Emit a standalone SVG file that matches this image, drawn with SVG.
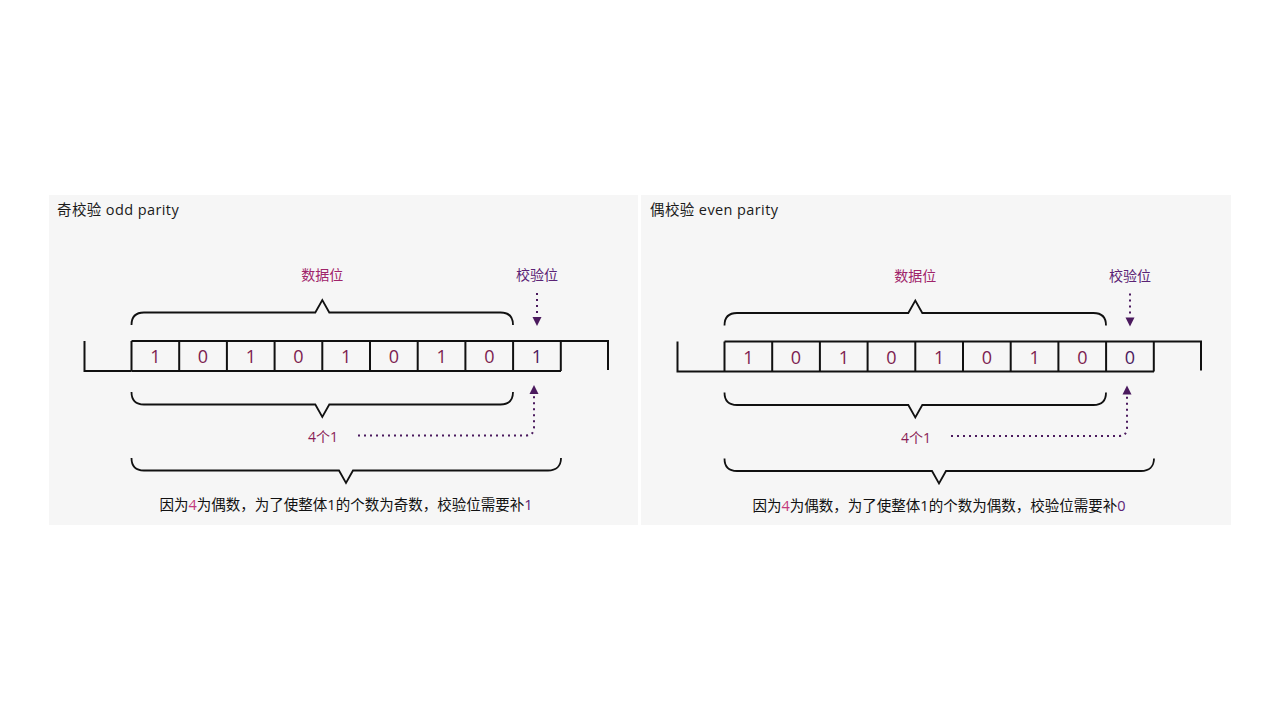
<svg xmlns="http://www.w3.org/2000/svg" width="1280" height="720" viewBox="0 0 1280 720">
<defs>
<style>
.bg{fill:#f6f6f6}
.ln{fill:none;stroke:#111;stroke-width:2}
.br{fill:none;stroke:#111;stroke-width:1.8;stroke-linejoin:miter}
.dot{fill:none;stroke:#4b1a5e;stroke-width:2;stroke-dasharray:2 4}
.ah{fill:#4b1a5e}
.t{font-family:"Open Sans","Noto Sans CJK SC","Liberation Sans",sans-serif}
.title{font-size:14.5px;fill:#1a1a1a;letter-spacing:0.4px}
.dig{font-size:18px;fill:#7d1d50;text-anchor:middle}
.par{font-size:18px;fill:#4b1a5e;text-anchor:middle}
.lbl1{font-size:14px;fill:#a0246a;text-anchor:middle}
.lbl2{font-size:14px;fill:#5b2375;text-anchor:middle}
.cnt{font-size:14px;fill:#8a1c55;text-anchor:middle}
.exp{font-size:14.5px;fill:#111;text-anchor:middle}
.pink{fill:#c23b7e}
.purp{fill:#5b2375}
</style>
<g id="frame">
<path class="ln" d="M84.5,341 V371 H131.5 M131.5,341 H608 V370 M131.5,371 H561 M131.5,341 V371"/>
<path class="ln" d="M179.2,341 V371 M226.9,341 V371 M274.6,341 V371 M322.3,341 V371 M370,341 V371 M417.7,341 V371 M465.4,341 V371 M513.1,341 V371 M560.8,341 V371"/>
</g>
<g id="braces">
<path class="br" d="M131.5,325 C131.5,317 136,312.5 144,312.5 H315.3 L322.3,300 L329.3,312.5 H500.5 C508.5,312.5 513,317 513,325"/>
<path class="br" d="M131.5,392 C131.5,400 136,404.5 144,404.5 H315.3 L322.3,417 L329.3,404.5 H500.5 C508.5,404.5 513,400 513,392"/>
<path class="br" d="M131.5,458 C131.5,466 136,470.5 144,470.5 H339 L346,483 L353,470.5 H548 C556,470.5 561,466 561,458"/>
</g>
<g id="arrows">
<path class="dot" d="M537,293 V316"/>
<polygon class="ah" points="537,326 532.5,317 541.5,317"/>
<path class="dot" d="M358,435.5 H526 Q534,435.5 534,427 V394"/>
<polygon class="ah" points="534,385 529.5,394 538.5,394"/>
</g>
</defs>

<g id="panel-odd">
<rect class="bg" x="49" y="195" width="589" height="330"/>
<text class="t title" x="57" y="215">奇校验 odd parity</text>
<use href="#frame"/>
<g id="odd-braces"><use href="#braces"/></g>
<g id="odd-connectors"><use href="#arrows"/></g>
<g id="odd-bits">
<text class="t dig" x="155.4" y="363">1</text>
<text class="t dig" x="203" y="363">0</text>
<text class="t dig" x="250.8" y="363">1</text>
<text class="t dig" x="298.5" y="363">0</text>
<text class="t dig" x="346.2" y="363">1</text>
<text class="t dig" x="393.9" y="363">0</text>
<text class="t dig" x="441.6" y="363">1</text>
<text class="t dig" x="489.3" y="363">0</text>
<text class="t par" x="537" y="363">1</text>
</g>
<text class="t lbl1" x="322.3" y="280">数据位</text>
<text class="t lbl2" x="537" y="280">校验位</text>
<text class="t cnt" x="323" y="442">4个1</text>
<text class="t exp" x="346" y="510">因为<tspan class="pink">4</tspan>为偶数，为了使整体1的个数为奇数，校验位需要补<tspan class="purp">1</tspan></text>
</g>

<g id="panel-even">
<rect class="bg" x="641" y="195" width="590" height="330"/>
<text class="t title" x="650" y="215">偶校验 even parity</text>
<g transform="translate(593,0.5)">
<use href="#frame"/>
<g id="even-braces"><use href="#braces"/></g>
<g id="even-connectors"><use href="#arrows"/></g>
<g id="even-bits">
<text class="t dig" x="155.4" y="363">1</text>
<text class="t dig" x="203" y="363">0</text>
<text class="t dig" x="250.8" y="363">1</text>
<text class="t dig" x="298.5" y="363">0</text>
<text class="t dig" x="346.2" y="363">1</text>
<text class="t dig" x="393.9" y="363">0</text>
<text class="t dig" x="441.6" y="363">1</text>
<text class="t dig" x="489.3" y="363">0</text>
<text class="t par" x="537" y="363">0</text>
</g>
<text class="t lbl1" x="322.3" y="280">数据位</text>
<text class="t lbl2" x="537" y="280">校验位</text>
<text class="t cnt" x="323" y="442">4个1</text>
<text class="t exp" x="346" y="510">因为<tspan class="pink">4</tspan>为偶数，为了使整体1的个数为偶数，校验位需要补<tspan class="purp">0</tspan></text>
</g>
</g>
</svg>
